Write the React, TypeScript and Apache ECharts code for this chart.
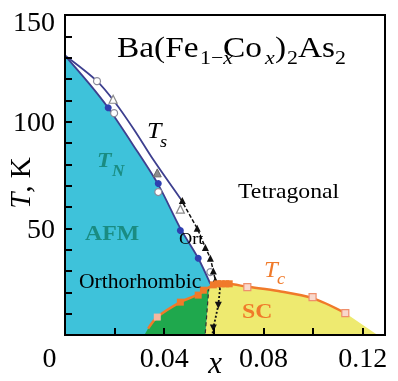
import React, { useEffect, useRef } from 'react';
import * as echarts from 'echarts';

const FONT = '"Liberation Serif", "Times New Roman", Times, serif';

// tick labels
const xLabelValues = [0, 0.04, 0.08, 0.12];
const xLabelTexts = ['0', '0.04', '0.08', '0.12'];
const yLabelValues = [50, 100, 150];
const yLabelTexts = ['50', '100', '150'];

// phase boundaries (x, T in K)
const tnCurve = [[0, 131], [0.01, 117.5], [0.0174, 106.5], [0.0275, 89], [0.0376, 70.5], [0.0465, 50], [0.0537, 36], [0.0586, 24]];
const tsCurve = [[0, 131], [0.0129, 119], [0.0202, 109], [0.028, 96], [0.0357, 82], [0.0465, 64]];
const tsDashed = [[0.0465, 64], [0.0533, 50], [0.0566, 41], [0.0586, 36], [0.0598, 30], [0.0606, 25.7], [0.0625, 22]];
const tsDown = [[0.0625, 22], [0.0618, 14], [0.0598, 3.3], [0.0594, 0]];
const scBoundary = [[0.058, 22.3], [0.0565, 0]];
const tcCurve = [[0.0335, 3], [0.0372, 8.4], [0.0465, 15.4], [0.0537, 19], [0.058, 22.3], [0.0614, 23.8], [0.0655, 24], [0.0735, 22.6], [0.086, 20.6], [0.0998, 17.3], [0.113, 10.3]];
const scEnd = [0.126, 0];
const afmEnd = [0.0586, 0];
const coexStart = [0.032, 0];
const scStart = [0.0565, 0];

// markers
const blueDots = [[0.0174, 106.5], [0.0376, 71], [0.0465, 49], [0.0537, 36]];
const openCircles = [[0.0129, 119], [0.0198, 104], [0.0376, 67], [0.0586, 29.5]];
const openTriangles = [[0.0194, 110.5], [0.0465, 59]];
const greyTriangles = [[0.0372, 76]];
const blackTriangles = [[0.0473, 63], [0.0533, 50], [0.0566, 41], [0.0586, 36], [0.0598, 30], [0.0606, 25.7]];
const downTriangles = [[0.0618, 14], [0.0598, 3.3]];
const tcFilled = [[0.0465, 15.4], [0.0537, 18.7], [0.0558, 21], [0.0598, 23.5], [0.0615, 24], [0.063, 24], [0.0648, 24], [0.0662, 24]];
const tcOpen = [[0.0735, 22.4], [0.0998, 17.8], [0.113, 10.3]];
const tcFaded = [[0.0372, 8.4]];

const afmPoly = [[0, 0], ...tnCurve, afmEnd];
const coexPoly = [coexStart, ...tcCurve.slice(0, 5), scStart];
const scPoly = [scStart, ...tcCurve.slice(4), scEnd];

const BLUE = '#3ec2da';
const GREEN = '#1fa84d';
const YELLOW = '#eeea70';
const ORANGE = '#f07a2a';
const TEAL = '#1a8c82';
const LINE = '#3d3f8f';

function region(poly: number[][], fill: string) {
  return {
    type: 'custom',
    silent: true,
    z: 1,
    data: [[0, 0]],
    renderItem: (_p: any, api: any) => ({
      type: 'polygon',
      shape: { points: poly.map((pt) => api.coord(pt)) },
      style: { fill },
    }),
  };
}

function line(data: number[][], color: string, width: number, type: any, z = 3, smooth: any = false) {
  return {
    type: 'line',
    data,
    symbol: 'none',
    smooth,
    z,
    silent: true,
    lineStyle: { color, width, type },
  };
}

function marks(data: number[][], symbol: string, size: number, fill: string, border: string, bw: number, rotate = 0, z = 5) {
  return {
    type: 'scatter',
    data,
    symbol,
    symbolSize: size,
    symbolRotate: rotate,
    z,
    silent: true,
    itemStyle: { color: fill, borderColor: border, borderWidth: bw, opacity: 1 },
  };
}

function txt(x: number, y: number, text: string, size: number, opts: any = {}) {
  return {
    type: 'text',
    x,
    y,
    z: 100,
    scaleX: opts.scaleX ?? 1.08,
    silent: true,
    style: {
      text,
      fontSize: size,
      fontFamily: FONT,
      fontStyle: opts.italic ? 'italic' : 'normal',
      fontWeight: opts.bold ? 'bold' : 'normal',
      fill: opts.color ?? '#000',
      align: 'left',
      verticalAlign: 'middle',
      rich: opts.rich,
    },
  };
}

export default function App() {
  const ref = useRef<HTMLDivElement>(null);
  useEffect(() => {
    if (!ref.current) return;
    const chart = echarts.init(ref.current, null, { renderer: 'svg' });
    const T = 1.15;
    chart.setOption({
      animation: false,
      textStyle: { fontFamily: FONT },
      grid: { left: 65, right: 13, top: 15, bottom: 46, outerBoundsMode: 'none', containLabel: false, show: true, borderColor: '#000', borderWidth: 2, backgroundColor: 'transparent' },
      xAxis: {
        type: 'value',
        min: 0,
        max: 0.129,
        interval: 0.02,
        z: 10,
        axisLine: { onZero: false, lineStyle: { color: '#000', width: 2 } },
        axisTick: { inside: true, length: 7, lineStyle: { color: '#000', width: 2 } },
        splitLine: { show: false },
        axisLabel: {
          color: '#000',
          fontSize: 28,
          fontFamily: FONT,
          margin: 8,
          formatter: (v: number) => {
            const i = xLabelValues.findIndex((u) => Math.abs(u - v) < 1e-9);
            if (i < 0) return '';
            return i === 0 ? '{o|' + xLabelTexts[0] + '}' : xLabelTexts[i];
          },
          rich: { o: { fontSize: 28, fontFamily: FONT, color: '#000', padding: [0, 31, 0, 0] } },
        },
        name: 'x',
        nameLocation: 'middle',
        nameGap: 12,
        nameMoveOverlap: false,
        nameTextStyle: { fontSize: 31, fontStyle: 'italic', fontFamily: FONT, color: '#000', padding: [0, 20, 0, 0] },
      },
      yAxis: {
        type: 'value',
        min: 0,
        max: 150,
        interval: 10,
        z: 10,
        axisLine: { onZero: false, lineStyle: { color: '#000', width: 2 } },
        axisTick: { inside: true, length: 7, lineStyle: { color: '#000', width: 2 } },
        splitLine: { show: false },
        axisLabel: {
          color: '#000',
          fontSize: 28,
          fontFamily: FONT,
          margin: 10,
          formatter: (v: number) => {
            const i = yLabelValues.findIndex((u) => Math.abs(u - v) < 1e-9);
            if (i < 0) return '';
            return i === yLabelValues.length - 1 ? '{t|' + yLabelTexts[i] + '}' : yLabelTexts[i];
          },
          rich: { t: { fontSize: 28, fontFamily: FONT, color: '#000', padding: [12, 0, 0, 0] } },
        },
        name: '{i|T}, K',
        nameLocation: 'middle',
        nameGap: 31,
        nameMoveOverlap: false,
        nameTextStyle: {
          fontSize: 29,
          fontFamily: FONT,
          color: '#000',
          padding: [0, 16, 0, 0],
          rich: { i: { fontSize: 29, fontFamily: FONT, fontStyle: 'italic', color: '#000' } },
        },
      },
      series: [
        region(afmPoly, BLUE),
        region(scPoly, YELLOW),
        region(coexPoly, GREEN),
        line(tnCurve, LINE, 1.8, 'solid', 3, 0.3),
        line(tsCurve, LINE, 1.8, 'solid', 3, 0.3),
        line(tsDashed, '#111', 1.5, [4, 2], 3),
        line(tsDown, '#111', 1.8, [2, 2], 3),
        line(scBoundary, '#333', 1.2, [4, 3], 3),
        line(tcCurve, ORANGE, 2.5, 'solid', 4, 0.3),
        marks(openCircles, 'circle', 7, '#ffffff', '#8a8a9a', 1.2),
        marks(openTriangles, 'triangle', 8, '#ffffff', '#8a8a8a', 1.2),
        marks(greyTriangles, 'triangle', 8, '#8c8c8c', '#6a6a6a', 1),
        marks(blueDots, 'circle', 7, '#2e3fb0', '#2e3fb0', 0),
        marks(blackTriangles, 'triangle', 7, '#111', '#111', 0),
        marks(downTriangles, 'triangle', 7, '#111', '#111', 0, 180),
        marks(tcFaded, 'rect', 7, '#f5b8a0', '#f5b8a0', 0),
        marks(tcFilled, 'rect', 7, ORANGE, ORANGE, 0),
        marks(tcOpen, 'rect', 7, '#f9d8cc', '#ef8f6c', 1.2),
      ],
      graphic: {
        elements: [
          txt(117, 47.5, 'Ba(Fe', 29, { scaleX: T }),
          txt(200, 58, '1−{i|x}', 19, { scaleX: T, rich: { i: { fontSize: 19, fontFamily: FONT, fontStyle: 'italic' } } }),
          txt(223, 47.5, 'Co', 29, { scaleX: T }),
          txt(265, 58, 'x', 19, { scaleX: T, italic: true }),
          txt(275, 47.5, ')', 29, { scaleX: T }),
          txt(287, 58, '2', 19, { scaleX: T }),
          txt(298, 47.5, 'As', 29, { scaleX: T }),
          txt(335, 58, '2', 19, { scaleX: T }),
          txt(147, 130, 'T', 24, { italic: true }),
          txt(160, 141.6, 's', 17, { italic: true }),
          txt(97, 159.5, 'T', 22, { italic: true, bold: true, color: TEAL }),
          txt(112, 171, 'N', 16, { italic: true, bold: true, color: TEAL }),
          txt(238, 190.5, 'Tetragonal', 22),
          txt(85, 232.5, 'AFM', 22, { bold: true, color: TEAL }),
          txt(179, 238.5, 'Ort', 17),
          txt(79, 281.5, 'Orthorhombic', 20),
          txt(264, 269.5, 'T', 23, { italic: true, color: ORANGE }),
          txt(277, 278, 'c', 17, { italic: true, color: ORANGE }),
          txt(242, 310.5, 'SC', 22, { bold: true, color: ORANGE }),
        ],
      },
    });
    return () => chart.dispose();
  }, []);
  return <div ref={ref} style={{ position: 'fixed', left: 0, top: 0, width: 398, height: 381 }} />;
}
